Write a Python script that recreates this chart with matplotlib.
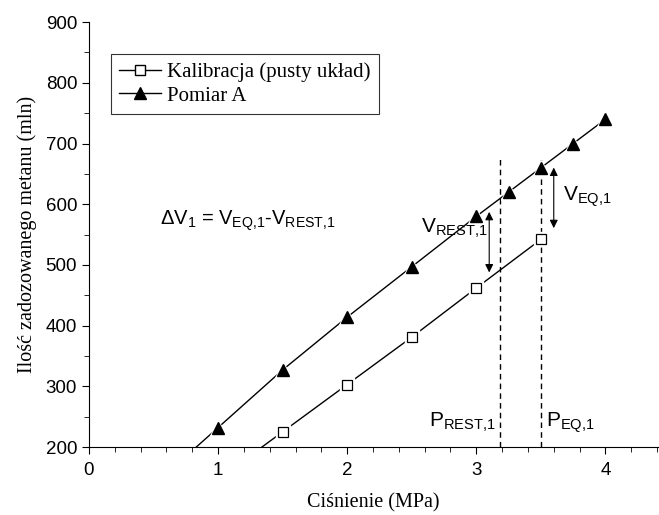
import numpy as np
from matplotlib import pyplot as plt
from matplotlib.ticker import MultipleLocator

plt.rcParams['mathtext.fontset'] = 'custom'
plt.rcParams['mathtext.rm'] = 'Liberation Sans'
plt.rcParams['mathtext.it'] = 'Liberation Sans'

# data
p_kal = [1.5, 2.0, 2.5, 3.0, 3.5]
v_kal = [225, 303, 381, 462, 542]
p_pom = [1.0, 1.5, 2.0, 2.5, 3.0, 3.25, 3.5, 3.75, 4.0]
v_pom = [232, 327, 414, 497, 580, 620, 660, 700, 740]
p_rest, p_eq = 3.18, 3.5

fig = plt.figure(figsize=(6.59, 5.15), dpi=100)
ax = fig.add_axes([0.135, 0.132, 0.864, 0.825])

def extend(x, y, y0):
    # extend the first segment down to the bottom of the axis
    a = (y[1] - y[0]) / (x[1] - x[0])
    x0 = x[0] - (y[0] - y0) / a
    return [x0] + list(x), [y0] + list(y)

xs, ys = extend(p_kal, v_kal, 200)
ax.plot(xs, ys, '-', color='black', lw=1, zorder=2)
ax.plot(p_kal, v_kal, 's', ms=10, mfc='white', mec='white', zorder=3)
ax.plot(p_kal, v_kal, 's', ms=7, mfc='white', mec='black', mew=0.9, zorder=4)
xs, ys = extend(p_pom, v_pom, 200)
ax.plot(xs, ys, '-', color='black', lw=1, zorder=2)
ax.plot(p_pom, v_pom, '^', ms=12, mfc='white', mec='white', zorder=3)
ax.plot(p_pom, v_pom, '^', ms=9, mfc='black', mec='black', zorder=4)

# legend handles
ax.plot([], [], '-s', color='black', ms=7, mfc='white', lw=1, label='Kalibracja (pusty układ)')
ax.plot([], [], '-^', color='black', ms=9, lw=1, label='Pomiar A')

for p in (p_rest, p_eq):
    ax.plot([p, p], [200, 676], '--', color='black', lw=1, dashes=(4, 3))

ax.annotate('', xy=(3.1, 483), xytext=(3.1, 592),
            arrowprops=dict(arrowstyle='<|-|>', color='black', lw=0.8, mutation_scale=12))
ax.annotate('', xy=(3.6, 556), xytext=(3.6, 665),
            arrowprops=dict(arrowstyle='<|-|>', color='black', lw=0.8, mutation_scale=12))

sans = 'Liberation Sans'
ax.text(0.55, 566, r'$\Delta$V$_1$ = V$_{EQ{,}1}$-V$_{REST{,}1}$', fontsize=14.5, family=sans, va='baseline')
ax.text(2.57, 560, r'V$_{REST{,}1}$', fontsize=15, family=sans, va='center')
ax.text(3.67, 612, r'V$_{EQ{,}1}$', fontsize=15, family=sans, va='center')
ax.text(2.63, 240, r'P$_{REST{,}1}$', fontsize=15, family=sans, va='center')
ax.text(3.54, 240, r'P$_{EQ{,}1}$', fontsize=15, family=sans, va='center')

ax.set_xlim(0, 4.41)
ax.set_ylim(200, 900)
ax.xaxis.set_major_locator(MultipleLocator(1))
ax.xaxis.set_minor_locator(MultipleLocator(0.2))
ax.yaxis.set_major_locator(MultipleLocator(100))
ax.yaxis.set_minor_locator(MultipleLocator(50))
ax.spines['top'].set_visible(False)
ax.spines['right'].set_visible(False)
ax.tick_params(which='major', direction='out', length=5, labelsize=13.5)
ax.tick_params(axis='x', which='major', pad=6)
ax.tick_params(which='minor', direction='out', length=3.5)
for lab in ax.get_xticklabels() + ax.get_yticklabels():
    lab.set_family(sans)

ax.set_xlabel('Ciśnienie (MPa)', family='Liberation Serif', fontsize=14.5, labelpad=10)
ax.set_ylabel('Ilość zadozowanego metanu (mln)', family='Liberation Serif', fontsize=14.5, labelpad=6)

leg = ax.legend(loc='upper left', bbox_to_anchor=(0.02, 0.95), frameon=True, fancybox=False,
                edgecolor='black', prop={'family': 'Liberation Serif', 'size': 15},
                handlelength=2.0, borderpad=0.4, labelspacing=0.2, handletextpad=0.3)
leg.get_frame().set_linewidth(0.8)

plt.savefig('out.png', dpi=100)
